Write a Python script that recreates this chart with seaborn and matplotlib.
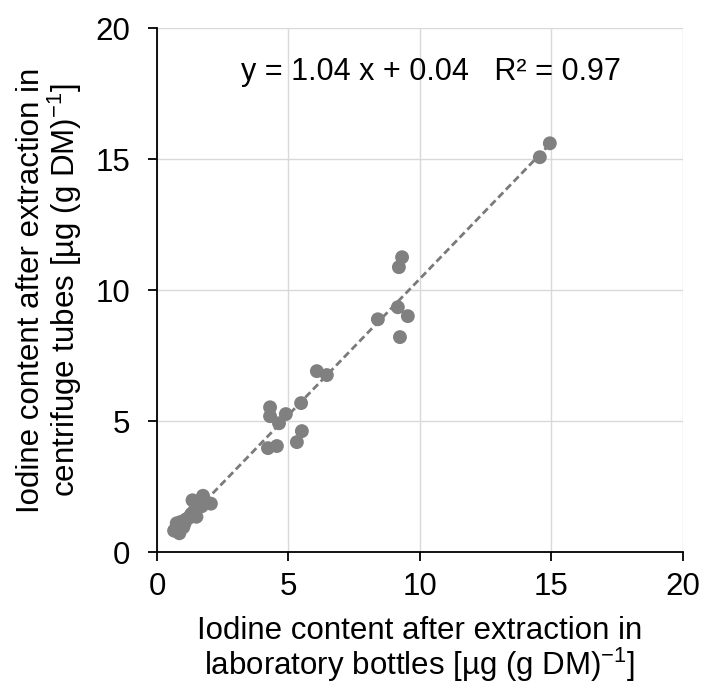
import matplotlib
matplotlib.use("Agg")
import matplotlib.pyplot as plt
import seaborn as sns
import numpy as np
import pandas as pd

bottles = [0.65, 0.85, 0.75, 0.9, 1.0, 1.05, 1.1, 1.2, 1.3, 1.35, 1.4, 1.5, 1.55, 1.6, 1.75, 1.7, 2.05,
           4.3, 4.3, 4.64, 4.9, 5.48, 5.51, 5.32, 4.22, 4.56, 6.08, 6.46,
           9.32, 9.2, 9.16, 8.4, 9.54, 9.24, 14.94, 14.56]
tubes = [0.82, 0.72, 1.1, 1.15, 0.95, 1.1, 1.25, 1.3, 1.45, 1.98, 1.55, 1.35, 1.7, 1.9, 2.15, 1.75, 1.85,
         5.53, 5.19, 4.92, 5.27, 5.69, 4.62, 4.2, 3.97, 4.05, 6.91, 6.76,
         11.26, 10.88, 9.35, 8.89, 9.01, 8.21, 15.61, 15.08]
slope = 1.04
intercept = 0.04
r2 = 0.97
ticks = [0, 5, 10, 15, 20]

sns.set_theme(style="white")
plt.rcParams['font.family'] = ['Liberation Sans', 'DejaVu Sans']
plt.rcParams['mathtext.default'] = 'regular'

df = pd.DataFrame({"x": bottles, "y": tubes})

fig = plt.figure(figsize=(7.04, 6.91), dpi=100)
ax = fig.add_axes([0.223, 0.201, 0.747, 0.758])

ax.grid(True, color="#d9d9d9", linewidth=1.0)
ax.set_axisbelow(True)

xs = np.array([min(bottles), max(bottles)])
line = pd.DataFrame({"x": xs, "y": slope * xs + intercept})
sns.lineplot(data=line, x="x", y="y", ax=ax, color="#7a7a7a", linewidth=2.0,
             linestyle=(0, (2.6, 1.4)), zorder=2)
sns.scatterplot(data=df, x="x", y="y", ax=ax, color="#808080", s=100,
                edgecolor="none", zorder=3)

ax.set_xlim(0, 20)
ax.set_ylim(0, 20)
ax.set_xticks(ticks)
ax.set_yticks(ticks)
ax.tick_params(axis="both", direction="out", length=6.5, width=1.3, color="black",
               labelsize=22.5, labelcolor="black", bottom=True, left=True)
ax.tick_params(axis="x", pad=8)
ax.tick_params(axis="y", pad=13)
for s in ["top", "right"]:
    ax.spines[s].set_visible(False)
for s in ["left", "bottom"]:
    ax.spines[s].set_color("black")
    ax.spines[s].set_linewidth(1.3)

ax.set_xlabel("Iodine content after extraction in\nlaboratory bottles [µg (g DM)$^{-1}$]",
              fontsize=22.5, color="black", labelpad=10, linespacing=1.0)
ax.set_ylabel("Iodine content after extraction in\ncentrifuge tubes [µg (g DM)$^{-1}$]",
              fontsize=22.5, color="black", labelpad=8, linespacing=1.0)

ax.text(10.4, 18.35, f"y = {slope:.2f} x + {intercept:.2f}   R² = {r2:.2f}",
        ha="center", va="center", fontsize=22, color="black")

fig.savefig("out.png", dpi=100)
